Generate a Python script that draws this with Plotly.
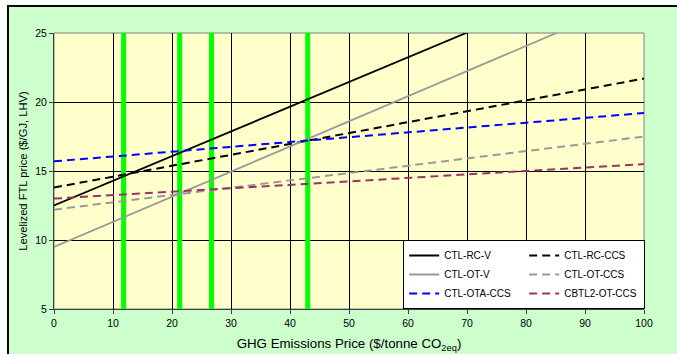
import plotly.graph_objects as go

# ---- data ----
price = [0, 100]
ctl_rc_v = [12.5, 30.4]
ctl_ot_v = [9.5, 27.7]
ctl_rc_ccs = [13.8, 21.7]
ctl_ota_ccs = [15.7, 19.2]
ctl_ot_ccs = [12.2, 17.5]
cbtl2_ot_ccs = [13.0, 15.5]
green_x = [11.8, 21.3, 26.7, 43.0]
y_span = [5, 25]

x_ticks = list(range(0, 101, 10))
y_ticks = [5, 10, 15, 20, 25]

FONT = "Arial, Liberation Sans, sans-serif"

fig = go.Figure()

# green vertical markers
for gx in green_x:
    fig.add_trace(go.Scatter(x=[gx, gx], y=y_span, mode="lines",
                             line=dict(color="#00FF00", width=5),
                             showlegend=False, hoverinfo="skip"))

series = [
    ("CTL-RC-V", ctl_rc_v, "#000000", "solid", 1.8),
    ("CTL-RC-CCS", ctl_rc_ccs, "#000000", "8px,5px", 2),
    ("CTL-OT-V", ctl_ot_v, "#999999", "solid", 1.8),
    ("CTL-OT-CCS", ctl_ot_ccs, "#999999", "8px,5px", 2),
    ("CTL-OTA-CCS", ctl_ota_ccs, "#0000FF", "8px,5px", 2),
    ("CBTL2-OT-CCS", cbtl2_ot_ccs, "#993366", "8px,5px", 2),
]
for name, ys, col, dash, w in series:
    fig.add_trace(go.Scatter(x=price, y=ys, mode="lines", name=name,
                             line=dict(color=col, dash=dash, width=w)))

# background panels
fig.add_shape(type="rect", xref="paper", yref="paper",
              x0=(8 - 54) / 590, x1=(690 - 54) / 590,
              y0=(309 - 370) / 276, y1=(309 - 6) / 276,
              fillcolor="#CCFFCC", line=dict(color="#000000", width=2), layer="below")
fig.add_shape(type="rect", xref="paper", yref="paper", x0=0, x1=1, y0=0, y1=1,
              fillcolor="#FFFFCC", line=dict(color="#808080", width=1), layer="below")

fig.update_xaxes(range=[0, 100], tickvals=x_ticks, showgrid=True, gridcolor="#000000",
                 gridwidth=1, showline=True, linecolor="#404040", linewidth=1,
                 ticks="outside", ticklen=4, tickcolor="#404040", zeroline=False,
                 automargin=False,
                 tickfont=dict(family=FONT, size=10.5, color="#000000"),
                 title=dict(text="GHG Emissions Price ($/tonne CO<sub>2eq</sub>)",
                            font=dict(family=FONT, size=13.3, color="#000000"), standoff=11))
fig.update_yaxes(range=[5, 25], tickvals=y_ticks, showgrid=True, gridcolor="#000000",
                 gridwidth=1, showline=True, linecolor="#404040", linewidth=1,
                 ticks="outside", ticklen=4, tickcolor="#404040", zeroline=False,
                 automargin=False,
                 tickfont=dict(family=FONT, size=10.5, color="#000000"),
                 title=dict(text="Levelized FTL price ($/GJ, LHV)",
                            font=dict(family=FONT, size=11.2, color="#000000"), standoff=5))

fig.update_layout(
    width=677, height=354,
    margin=dict(l=54, r=33, t=33, b=45),
    paper_bgcolor="#FFFFFF", plot_bgcolor="#FFFFCC",
    font=dict(family=FONT, size=10, color="#000000"),
    legend=dict(orientation="h", x=1.002, xanchor="right", y=0, yanchor="bottom",
                entrywidth=75, entrywidthmode="pixels",
                bgcolor="#FFFFFF", bordercolor="#000000", borderwidth=1,
                font=dict(family=FONT, size=10, color="#000000"),
                traceorder="normal"),
)

fig.write_html("out.html")
